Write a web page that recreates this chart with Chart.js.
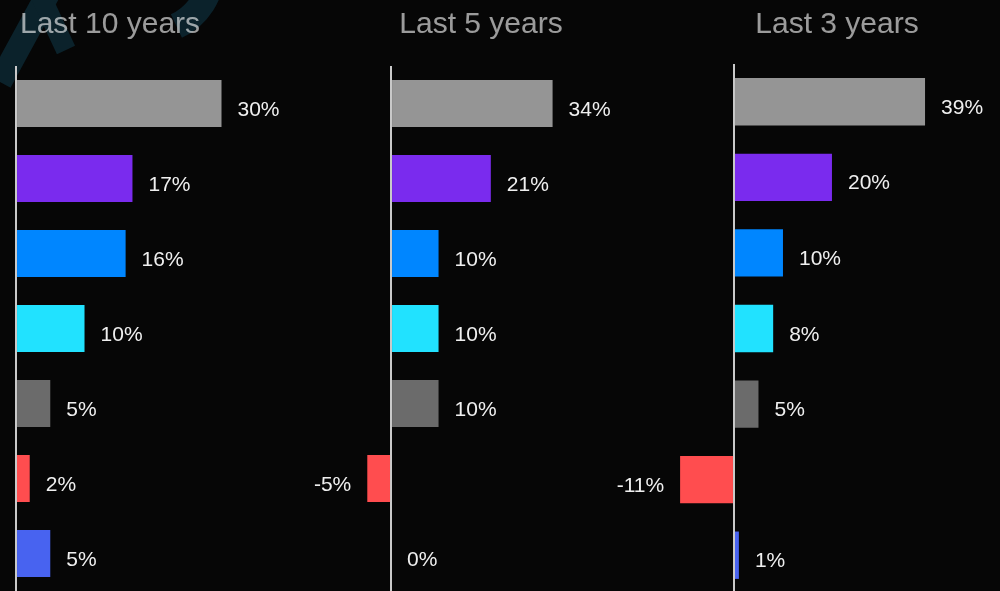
<!DOCTYPE html>
<html>
<head>
<meta charset="utf-8">
<title>Returns by period</title>
<script src="https://cdn.jsdelivr.net/npm/chart.js@4/dist/chart.umd.min.js"></script>
<style>
    html, body { margin: 0; padding: 0; background: #060606; overflow: hidden; }
    #wrap { position: relative; width: 1000px; height: 591px; }
    canvas { position: absolute; top: 0; }
</style>
</head>
<body>
<div id="wrap">
    <canvas id="c10" width="300" height="591" style="left:0"></canvas>
    <canvas id="c5" width="350" height="591" style="left:300px"></canvas>
    <canvas id="c3" width="400" height="593" style="left:600px"></canvas>
</div>
<script>
// -----------------------------------------------------------------------------
// Data
// -----------------------------------------------------------------------------

const categories = ['Row 1', 'Row 2', 'Row 3', 'Row 4', 'Row 5', 'Row 6', 'Row 7'];
const barColors = ['#959595', '#7a2bee', '#0086ff', '#21e2ff', '#6b6b6b', '#ff4d4f', '#4863f0'];

const last10Years = [30, 17, 16, 10, 5, 2, 5];
const last5Years = [34, 21, 10, 10, 10, -5, 0];
const last3Years = [39, 20, 10, 8, 5, -11, 1];

const titles = ['Last 10 years', 'Last 5 years', 'Last 3 years'];

// -----------------------------------------------------------------------------
// Plugins
// -----------------------------------------------------------------------------

const labelFont = '21px "Liberation Sans", Arial, sans-serif';
const titleFont = '30px "Liberation Sans", Arial, sans-serif';

// faint brand mark behind the first heading
const backdrop = {
    id: 'backdrop',
    beforeDraw(chart) {
        const ctx = chart.ctx;
        ctx.save();
        ctx.strokeStyle = '#0b222b';
        ctx.lineCap = 'butt';
        ctx.lineWidth = 24;
        ctx.beginPath();
        ctx.moveTo(50, -10);
        ctx.lineTo(0, 82);
        ctx.stroke();
        ctx.lineWidth = 20;
        ctx.beginPath();
        ctx.moveTo(38, -10);
        ctx.lineTo(66, 50);
        ctx.stroke();
        ctx.lineWidth = 26;
        ctx.beginPath();
        ctx.arc(150, -30, 62, 0, 0.36 * Math.PI);
        ctx.stroke();
        ctx.restore();
    }
};

const panelTitle = {
    id: 'panelTitle',
    beforeDraw(chart, args, opts) {
        const ctx = chart.ctx;
        ctx.save();
        ctx.font = titleFont;
        ctx.fillStyle = 'rgba(255, 255, 255, 0.6)';
        ctx.textAlign = 'center';
        ctx.textBaseline = 'alphabetic';
        ctx.fillText(opts.text, opts.x, opts.y);
        ctx.restore();
    }
};

const valueLabels = {
    id: 'valueLabels',
    afterDatasetsDraw(chart) {
        const ctx = chart.ctx;
        const values = chart.data.datasets[0].data;
        ctx.save();
        ctx.font = labelFont;
        ctx.fillStyle = '#efefef';
        ctx.textBaseline = 'alphabetic';
        chart.getDatasetMeta(0).data.forEach((bar, i) => {
            const v = values[i];
            const neg = v < 0;
            ctx.textAlign = neg ? 'right' : 'left';
            ctx.fillText(v + '%', bar.x + (neg ? -16 : 16), bar.y + 12);
        });
        ctx.restore();
    }
};

// -----------------------------------------------------------------------------
// Charts
// -----------------------------------------------------------------------------

function buildPanel(id, values, title, range, extraPlugins) {
    return new Chart(document.getElementById(id), {
        type: 'bar',
        data: {
            labels: categories,
            datasets: [{
                data: values,
                backgroundColor: barColors,
                borderWidth: 0,
                barPercentage: 1,
                categoryPercentage: 0.627
            }]
        },
        options: {
            indexAxis: 'y',
            responsive: false,
            animation: false,
            layout: { padding: { top: range.top, bottom: 0, left: 0, right: 0 } },
            scales: {
                x: {
                    position: 'top',
                    min: range.min,
                    max: range.max,
                    afterBuildTicks: (scale) => { scale.ticks = [{ value: 0 }]; },
                    ticks: { display: false },
                    border: { display: false },
                    grid: {
                        drawTicks: false,
                        lineWidth: 2,
                        color: (ctx) => (ctx.tick && ctx.tick.value === 0 ? '#c9c9c9' : 'transparent')
                    }
                },
                y: { display: false }
            },
            plugins: {
                legend: { display: false },
                tooltip: { enabled: false },
                panelTitle: { text: title, x: range.titleX, y: 33 }
            }
        },
        plugins: [...extraPlugins, panelTitle, valueLabels]
    });
}

buildPanel('c10', last10Years, titles[0], { min: -2.34, max: 41.46, top: 66, titleX: 110 }, [backdrop]);
buildPanel('c5', last5Years, titles[1], { min: -19.16, max: 54.5, top: 66, titleX: 181 }, []);
buildPanel('c3', last3Years, titles[2], { min: -27.35, max: 54.3, top: 64, titleX: 237 }, []);
</script>
</body>
</html>
